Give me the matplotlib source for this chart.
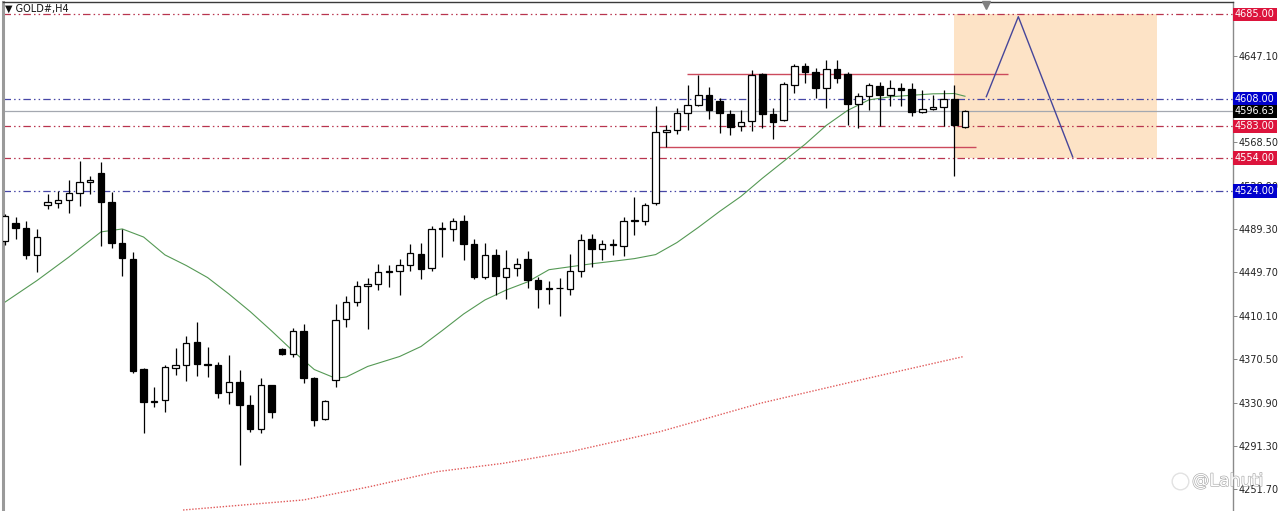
import matplotlib
matplotlib.use('Agg')
from matplotlib import pyplot as plt
from matplotlib.patches import Rectangle
import matplotlib.transforms as mtransforms
import matplotlib.patheffects as pe

# GOLD#, H4 bars (oldest -> newest)
opens = [4478.6, 4494.9, 4490.4, 4465.9, 4511.2, 4512.8, 4515.8, 4521.8, 4531.8, 4540.8,
         4513.7, 4476.5, 4461.5, 4361.3, 4331.5, 4333.5, 4362.8, 4365.2, 4386.0, 4366.1,
         4365.2, 4340.5, 4349.5, 4329.0, 4307.0, 4346.5, 4379.7, 4374.9, 4396.0, 4353.7,
         4316.0, 4351.6, 4407.3, 4422.2, 4437.6, 4438.7, 4450.2, 4451.2, 4456.2, 4466.8,
         4453.9, 4488.8, 4489.5, 4496.5, 4475.9, 4445.4, 4465.9, 4445.1, 4453.9, 4461.7,
         4442.6, 4434.5, 4435.1, 4434.5, 4451.2, 4480.4, 4470.7, 4474.5, 4473.4, 4496.1,
         4497.0, 4512.8, 4578.0, 4579.2, 4595.2, 4602.7, 4611.1, 4605.7, 4594.6, 4583.1,
         4587.6, 4630.5, 4594.3, 4588.5, 4620.8, 4638.0, 4632.9, 4617.8, 4635.3, 4630.5,
         4603.6, 4610.2, 4620.2, 4611.1, 4617.8, 4617.2, 4595.7, 4599.0, 4600.6, 4608.1,
         4582.5]
highs = [4503.0, 4500.6, 4497.0, 4489.5, 4521.2, 4524.2, 4533.9, 4551.3, 4537.2, 4550.4,
         4522.7, 4489.5, 4468.5, 4362.2, 4345.0, 4365.2, 4380.3, 4391.4, 4404.4, 4381.8,
         4367.7, 4374.3, 4360.7, 4338.0, 4353.7, 4347.0, 4380.2, 4399.0, 4402.1, 4354.3,
         4333.5, 4420.5, 4428.2, 4441.8, 4444.2, 4456.9, 4456.2, 4462.3, 4475.9, 4476.8,
         4491.6, 4495.6, 4499.2, 4502.2, 4480.4, 4476.8, 4470.7, 4469.8, 4462.9, 4468.9,
         4445.7, 4441.8, 4444.2, 4466.8, 4484.9, 4484.9, 4478.9, 4480.4, 4500.1, 4518.2,
         4513.0, 4601.2, 4584.6, 4599.7, 4620.8, 4629.9, 4618.7, 4608.8, 4598.2, 4597.5,
         4634.4, 4631.4, 4599.7, 4623.8, 4639.8, 4640.4, 4636.0, 4643.5, 4643.5, 4632.9,
         4613.3, 4622.4, 4623.3, 4625.3, 4622.4, 4622.4, 4616.3, 4611.8, 4615.7, 4620.8,
         4597.8]
lows = [4475.0, 4479.8, 4461.7, 4449.6, 4507.6, 4508.2, 4504.0, 4510.6, 4521.2, 4473.8,
        4472.3, 4446.6, 4357.5, 4302.8, 4327.0, 4322.5, 4356.0, 4350.6, 4355.4, 4354.5,
        4334.8, 4329.7, 4274.0, 4304.4, 4302.8, 4316.6, 4374.5, 4372.2, 4349.0, 4309.9,
        4314.8, 4345.0, 4399.5, 4418.6, 4398.3, 4433.6, 4436.7, 4429.1, 4451.2, 4443.6,
        4450.8, 4463.8, 4478.0, 4461.1, 4443.3, 4443.3, 4429.1, 4425.4, 4446.6, 4435.1,
        4417.0, 4420.6, 4409.5, 4429.1, 4445.7, 4454.8, 4460.8, 4465.3, 4464.8, 4483.4,
        4493.1, 4511.2, 4564.4, 4575.5, 4579.2, 4601.2, 4589.8, 4577.1, 4574.6, 4578.5,
        4578.5, 4581.6, 4571.0, 4588.0, 4613.8, 4622.4, 4608.8, 4599.7, 4622.4, 4583.7,
        4581.6, 4598.2, 4583.1, 4601.8, 4601.2, 4592.1, 4595.2, 4598.2, 4583.1, 4537.8,
        4581.5]
closes = [4501.3, 4490.4, 4465.9, 4481.9, 4513.7, 4516.0, 4522.1, 4531.8, 4533.9, 4514.2,
          4476.2, 4462.9, 4360.0, 4331.4, 4332.5, 4363.1, 4365.2, 4385.4, 4366.1, 4365.0,
          4339.6, 4349.5, 4329.0, 4307.0, 4346.5, 4322.3, 4374.9, 4396.0, 4353.7, 4315.4,
          4332.3, 4406.4, 4422.2, 4437.6, 4438.7, 4450.2, 4451.2, 4456.2, 4467.5, 4452.6,
          4488.8, 4490.1, 4496.1, 4475.6, 4445.4, 4465.3, 4446.6, 4453.9, 4457.5, 4442.6,
          4434.5, 4435.1, 4435.5, 4451.2, 4479.5, 4470.7, 4475.9, 4475.3, 4496.1, 4497.9,
          4511.2, 4578.0, 4579.2, 4595.2, 4602.7, 4611.1, 4597.5, 4595.2, 4582.5, 4586.7,
          4629.9, 4594.3, 4587.0, 4621.5, 4638.0, 4632.9, 4617.8, 4635.3, 4626.9, 4603.6,
          4610.2, 4620.8, 4611.1, 4617.8, 4616.3, 4595.7, 4599.1, 4600.6, 4607.9, 4583.7,
          4596.6]

# green moving average (bar index, price)
ma_idx = [0, 3, 6, 9, 11, 13, 15, 17, 19, 21, 23, 25, 27, 29, 31, 32, 34, 37, 39, 41,
          43, 45, 47, 49, 51, 53, 55, 57, 59, 61, 63, 65, 67, 69, 71, 73, 75, 77, 79, 81,
          83, 85, 87, 89, 90]
ma_val = [4422.5, 4442.2, 4463.7, 4486.6, 4489.3, 4481.9, 4465.6, 4455.9, 4444.9, 4429.9,
          4413.8, 4396.2, 4377.9, 4361.0, 4353.0, 4354.2, 4363.8, 4372.9, 4382.0, 4396.6,
          4411.7, 4424.5, 4433.6, 4441.0, 4452.1, 4454.8, 4457.5, 4459.8, 4462.2, 4465.9,
          4476.9, 4490.7, 4505.3, 4519.0, 4535.5, 4551.0, 4566.5, 4583.8, 4597.5, 4607.1,
          4609.9, 4611.3, 4612.6, 4612.9, 4610.4]

# red dotted slow average
slow_idx = [16.7, 28.0, 34.2, 40.5, 46.7, 53.0, 61.4, 70.8, 80.2, 89.8]
slow_val = [4232.8, 4242.0, 4254.1, 4267.8, 4275.4, 4286.0, 4304.3, 4330.2, 4351.5, 4372.7]

level_prices = [4685.00, 4608.00, 4583.00, 4554.00, 4524.00]
level_colors = ['red', 'blue', 'red', 'red', 'blue']
bid_price = 4596.63
tick_prices = [4647.10, 4568.50, 4528.90, 4489.30, 4449.70, 4410.10,
               4370.50, 4330.90, 4291.30, 4251.70]

resist_line = [63.9, 94.0, 4630.7]
support_line = [61.0, 91.0, 4564.1]
zone_x = [89.0, 108.0]
zone_y = [4554.0, 4685.0]
path_idx = [92.0, 95.0, 100.1]
path_val = [4610.0, 4683.0, 4555.0]

line_col = {'red': '#b8344e', 'blue': '#4646a6'}
box_col = {'red': '#dc143c', 'blue': '#0000cd'}

fig = plt.figure(figsize=(12.8, 5.11), dpi=100)
ax = fig.add_axes([2.5 / 1280, 0, 1230 / 1280, 509 / 511])
ax.set_xlim(-0.23, 115.08)
ax.set_ylim(4231.9, 4696.4)

# target zone
ax.add_patch(Rectangle((zone_x[0], zone_y[0]), zone_x[1] - zone_x[0], zone_y[1] - zone_y[0],
                       facecolor='#fde3c6', edgecolor='none', zorder=0.5))

for price, kind in zip(level_prices, level_colors):
    ax.axhline(price, color=line_col[kind], lw=0.9, dashes=(6, 2.5, 1.2, 2.5, 1.2, 2.5), zorder=1)
ax.axhline(bid_price, color='#a4a8b0', lw=0.9, zorder=1)

ax.hlines(resist_line[2], resist_line[0], resist_line[1], color='#cc4a5c', lw=1.0, zorder=1.5)
ax.hlines(support_line[2], support_line[0], support_line[1], color='#cc4a5c', lw=1.0, zorder=1.5)

ax.plot(ma_idx, ma_val, color='#559955', lw=0.8, zorder=2)
ax.plot(slow_idx, slow_val, color='#e05a5a', lw=1.0, dashes=(1, 1.2), zorder=2)
ax.plot(path_idx, path_val, color='#46469a', lw=1.0, zorder=2)

# candles
idx = list(range(len(opens)))
ax.vlines(idx, lows, highs, color='black', lw=0.9, zorder=3)
for i in idx:
    o, c = opens[i], closes[i]
    bottom = min(o, c)
    height = max(abs(c - o), 0.4)
    face = 'white' if c >= o else 'black'
    ax.bar(i, height, bottom=bottom, width=0.6, color=face, edgecolor='black',
           linewidth=0.9, zorder=4)

# frame
ax.spines['bottom'].set_visible(False)
ax.spines['top'].set_color('#3a3a3a')
ax.spines['top'].set_linewidth(1.0)
ax.spines['left'].set_color('#9a9a9a')
ax.spines['left'].set_linewidth(2.2)
ax.spines['right'].set_color('#8a8a8a')
ax.spines['right'].set_linewidth(1.0)

ax.set_xticks([])
ax.yaxis.tick_right()
ax.set_yticks(tick_prices)
ax.set_yticklabels([f'{v:.2f}' for v in tick_prices])
ax.tick_params(axis='y', length=3, width=0.7, color='#888888', labelcolor='#222222',
               labelsize=7, pad=1.5)

# price tags on the scale
trans = mtransforms.blended_transform_factory(ax.transAxes, ax.transData)
for price, kind in zip(level_prices, level_colors):
    ax.text(1.0 + 2.5 / 1230, price, f'{price:.2f}', transform=trans, fontsize=7,
            color='white', ha='left', va='center', clip_on=False, zorder=10,
            bbox=dict(boxstyle='square,pad=0.18', fc=box_col[kind], ec='none'))
ax.text(1.0 + 2.5 / 1230, bid_price, f'{bid_price:.2f}', transform=trans, fontsize=7,
        color='white', ha='left', va='center', clip_on=False, zorder=10,
        bbox=dict(boxstyle='square,pad=0.18', fc='black', ec='none'))

# chart shift marker
trans_x = mtransforms.blended_transform_factory(ax.transData, ax.transAxes)
ax.plot([92.0], [0.994], marker='v', ms=6, color='#808080', transform=trans_x,
        clip_on=False, zorder=10)

fig.text(5 / 1280, 1 - 9 / 511, '\u25bc GOLD#,H4', fontsize=7, color='#111111', va='center')

# watermark
fig.add_artist(plt.Line2D([1180 / 1280], [1 - 481 / 511], marker='o', ms=12, mfc='none',
                          mec='#e2e2e2', mew=1.0, transform=fig.transFigure))
fig.text(1192 / 1280, 1 - 481 / 511, '@Lahuti', fontsize=12.5, color='white', va='center',
         path_effects=[pe.withStroke(linewidth=0.9, foreground='#a8a8a8')])

fig.savefig('out.png', dpi=100)
